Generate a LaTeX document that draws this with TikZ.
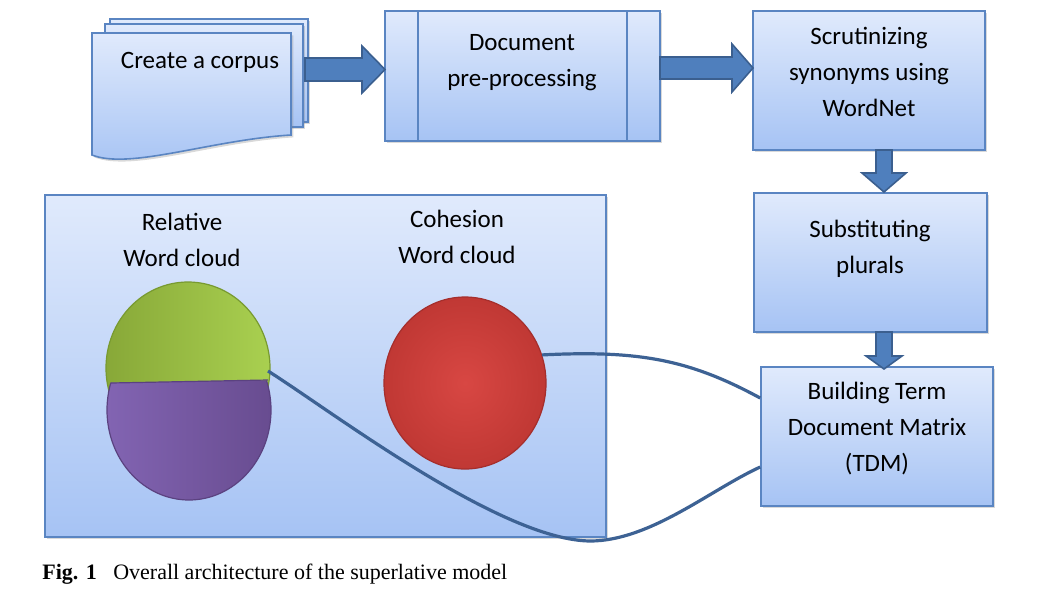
\documentclass[tikz,border=0pt]{standalone}
\usepackage{fontspec}
\setmainfont{Carlito}
\newfontfamily\capfont{Liberation Serif}
\usetikzlibrary{shapes.geometric,shadows,calc}
\definecolor{bxtop}{HTML}{E0EAFC}
\definecolor{bxbot}{HTML}{A6C3F4}
\definecolor{bxline}{HTML}{5A85C2}
\definecolor{arfill}{HTML}{4F7FBD}
\definecolor{arline}{HTML}{3B5F8F}
\definecolor{curvecol}{HTML}{3D6294}
\definecolor{grL}{HTML}{88A838}
\definecolor{grR}{HTML}{A9D050}
\definecolor{grE}{HTML}{789A30}
\definecolor{puL}{HTML}{8264B2}
\definecolor{puR}{HTML}{684C90}
\definecolor{puE}{HTML}{5B4280}
\definecolor{rdIn}{HTML}{D84743}
\definecolor{rdOut}{HTML}{C03834}
\definecolor{rdE}{HTML}{A52E2C}
\begin{document}
\begin{tikzpicture}[x=0.5pt,y=-0.5pt,
  box/.style={draw=bxline, line width=0.8pt, top color=bxtop, bottom color=bxbot,
    inner sep=0pt, drop shadow={shadow xshift=1.2pt,shadow yshift=-1.2pt,opacity=0.3}},
  lbl/.style={font=\fontsize{12.5}{18}\selectfont, align=center, inner sep=0pt},
  blockarrow/.style={fill=arfill, draw=arline, line width=0.8pt, line join=miter},
  link/.style={draw=curvecol, line width=1.6pt}]
\useasboundingbox (0,0) rectangle (1059,600);

% corpus (multi-document)
\path[box] (110,19) rectangle (308,122);
\path[box] (105,24) rectangle (303,127);
\path[box] (92,33) -- (291,33) -- (291,135) .. controls (210,140) and (130,170) .. (92,155) -- cycle;
\node[lbl] (corpus) at (200,62) {Create a corpus};

% boxes
\node[box, minimum width=137.5pt, minimum height=65pt] (pre) at (522.5,76) {};
\draw[bxline, line width=0.8pt] ($(pre.north west)+(34,0)$) -- ($(pre.south west)+(34,0)$);
\draw[bxline, line width=0.8pt] ($(pre.north east)+(-34,0)$) -- ($(pre.south east)+(-34,0)$);
\node[lbl] (pretext) at (522,63) {Document\\pre-processing};

\node[box, minimum width=116pt, minimum height=69.5pt] (scrut) at (869,80.5) {};
\node[lbl] (scruttext) at (869,72) {Scrutinizing\\synonyms using\\WordNet};

\node[box, minimum width=116.5pt, minimum height=69.5pt] (subst) at (870.5,262.5) {};
\node[lbl] (substtext) at (870,249) {Substituting\\plurals};

\node[box, minimum width=116pt, minimum height=69.5pt] (tdm) at (877,436.5) {};
\node[lbl] (tdmtext) at (877,429) {Building Term\\Document Matrix\\(TDM)};

% block arrows
\path[blockarrow] (305,58) -- (362,58) -- (362,46) -- (385,69.5) -- (362,93) -- (362,81) -- (305,81) -- cycle;
\path[blockarrow] (660,57) -- (732,57) -- (732,44) -- (753,68) -- (732,92) -- (732,79) -- (660,79) -- cycle;
\path[blockarrow] (876,150) -- (876,173) -- (862,173) -- (884,192) -- (906,173) -- (892,173) -- (892,150) -- cycle;
\path[blockarrow] (876,332) -- (876,356) -- (866,356) -- (884,369) -- (902,356) -- (892,356) -- (892,332) -- cycle;

% container
\node[box, minimum width=280.5pt, minimum height=171pt] (cont) at (325.5,366) {};
\node[lbl] (reltext) at (182,240) {Relative\\Word cloud};
\node[lbl] (cohtext) at (457,237) {Cohesion\\Word cloud};

% clouds
\node[ellipse, minimum width=82pt, minimum height=86pt, left color=grL, right color=grR,
  draw=grE, line width=0.6pt, inner sep=0pt] (green) at (188,368) {};
\begin{scope}
  \clip (90,383) -- (290,380) -- (290,520) -- (90,520) -- cycle;
  \node[ellipse, minimum width=82pt, minimum height=90pt, left color=puL, right color=puR,
    draw=puE, line width=0.6pt, inner sep=0pt] (purple) at (189,410) {};
\end{scope}
\draw[puE, line width=0.6pt] (111,383) -- (268,380);
\node[ellipse, minimum width=81pt, minimum height=86pt, inner color=rdIn, outer color=rdOut,
  draw=rdE, line width=0.6pt, inner sep=0pt] (red) at (465,383) {};

\coordinate (junc) at (268,371);
\coordinate (tdmA) at ($(tdm.west)+(0,-38.5)$);
\coordinate (tdmB) at ($(tdm.west)+(0,30.5)$);

% links
\draw[link] (red.20) .. controls (640,350) and (690,360) .. (tdmA);
\draw[link] (junc) .. controls (330,410) and (500,540) .. (590,541)
  .. controls (650,541) and (710,490) .. (tdmB);

% caption
\node[anchor=base west, inner sep=0pt, font=\capfont\fontsize{11}{13}\selectfont] (cap) at (42,579)
  {\textbf{Fig. 1}\hspace{0.75em}Overall architecture of the superlative model};
\end{tikzpicture}
\end{document}
